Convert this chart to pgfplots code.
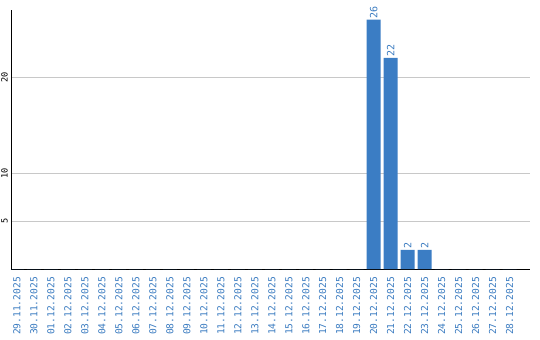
\documentclass[border=0pt]{standalone}
\usepackage{fontspec}
\setmainfont{DejaVu Sans Mono}
\usepackage{pgfplots}
\pgfplotsset{compat=1.18}
\definecolor{barblue}{HTML}{3B7DC4}
\definecolor{labblue}{HTML}{3A7BC0}
\definecolor{gridgray}{HTML}{C8C8C8}
\begin{document}
\begin{tikzpicture}
\useasboundingbox (-11bp,-71bp) rectangle (529bp,269bp);
\begin{axis}[
  at={(0,0)}, anchor=south west,
  scale only axis,
  width=519bp, height=259bp,
  xmin=-0.35, xmax=30.2,
  ymin=0, ymax=27,
  axis x line*=bottom, axis y line*=left,
  axis line style={black, line width=0.9pt, -},
  xtick={0,...,29},
  xticklabels={29.11.2025,30.11.2025,01.12.2025,02.12.2025,03.12.2025,04.12.2025,05.12.2025,06.12.2025,07.12.2025,08.12.2025,09.12.2025,10.12.2025,11.12.2025,12.12.2025,13.12.2025,14.12.2025,15.12.2025,16.12.2025,17.12.2025,18.12.2025,19.12.2025,20.12.2025,21.12.2025,22.12.2025,23.12.2025,24.12.2025,25.12.2025,26.12.2025,27.12.2025,28.12.2025},
  x tick label style={rotate=90, anchor=east, font=\fontsize{9.6bp}{10bp}\selectfont, text=labblue, inner sep=0pt, xshift=0bp},
  xticklabel shift=8bp,
  ytick={5,10,20},
  y tick label style={rotate=90, anchor=south, font=\fontsize{8.6bp}{9bp}\selectfont, inner sep=0pt},
  yticklabel shift=3bp,
  /pgf/number format/assume math mode=true,
  major tick length=0pt,
  ymajorgrids,
  grid style={gridgray, line width=0.8pt},
  axis on top=false,
]
\addplot[ybar, bar width=14bp, fill=barblue, draw=none,
  nodes near coords={\pgfmathfloatifflags{\pgfplotspointmeta}{0}{}{\pgfmathprintnumber{\pgfplotspointmeta}}},
  every node near coord/.append style={rotate=90, anchor=west, text=labblue, font=\fontsize{10bp}{10bp}\selectfont, inner sep=1bp},
] coordinates {
(0,0) (1,0) (2,0) (3,0) (4,0) (5,0) (6,0) (7,0) (8,0) (9,0)
(10,0) (11,0) (12,0) (13,0) (14,0) (15,0) (16,0) (17,0) (18,0) (19,0)
(20,0) (21,26) (22,22) (23,2) (24,2) (25,0) (26,0) (27,0) (28,0) (29,0)
};
\end{axis}
\end{tikzpicture}
\end{document}
